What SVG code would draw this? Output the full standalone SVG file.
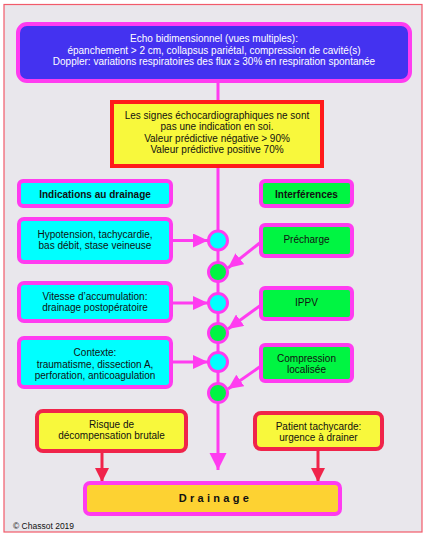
<svg xmlns="http://www.w3.org/2000/svg" width="426" height="535" viewBox="0 0 426 535">
<style>
text{font-family:"Liberation Sans",Arial,sans-serif;font-size:10px;text-anchor:middle;fill:#111}
.w{fill:#fff}
.b{font-weight:bold}
.mg{stroke:#ff3cf0;stroke-width:4}
.cy{fill:#00ffff}
.gr{fill:#00f542}
.ye{fill:#f8f83c}
.ln{stroke:#ff3cf0;stroke-width:3;fill:none}
.rl{stroke:#f0244a;stroke-width:3;fill:none}
.circ{stroke:#ff3cf0;stroke-width:3}
</style>
<defs>
<marker id="am" markerUnits="userSpaceOnUse" markerWidth="16" markerHeight="14" refX="15" refY="7" orient="auto"><path d="M0,0 L15,7 L0,14 Z" fill="#ff3cf0"/></marker>
<marker id="ar" markerUnits="userSpaceOnUse" markerWidth="14" markerHeight="14" refX="14" refY="7" orient="auto"><path d="M0,0 L14,7 L0,14 Z" fill="#f0244a"/></marker>
<marker id="amb" markerUnits="userSpaceOnUse" markerWidth="18" markerHeight="18" refX="17" refY="8.5" orient="auto"><path d="M0,0 L17,8.5 L0,17 Z" fill="#ff3cf0"/></marker>
</defs>
<rect x="4" y="4.5" width="418" height="527.5" fill="#e9e7ec" stroke="#f25a6a" stroke-width="1.2"/>
<g id="connectors">
<line class="ln" x1="218" y1="82" x2="218" y2="470" marker-end="url(#amb)"/>
<line class="ln" x1="172" y1="240.5" x2="208" y2="240.5" marker-end="url(#am)"/>
<line class="ln" x1="172" y1="303" x2="208" y2="303" marker-end="url(#am)"/>
<line class="ln" x1="172" y1="362" x2="208" y2="362" marker-end="url(#am)"/>
<line class="ln" x1="261" y1="242" x2="228" y2="268" marker-end="url(#am)"/>
<line class="ln" x1="261" y1="305" x2="228" y2="329" marker-end="url(#am)"/>
<line class="ln" x1="261" y1="366" x2="228" y2="389" marker-end="url(#am)"/>
<line class="rl" x1="102" y1="452" x2="102" y2="482" marker-end="url(#ar)"/>
<line class="rl" x1="318" y1="450" x2="318" y2="482" marker-end="url(#ar)"/>
</g>
<g id="echo">
<rect x="18" y="24" width="392" height="57" rx="9" fill="#4432f0" class="mg"/>
<text class="w" x="214" y="42">Echo bidimensionnel (vues multiples):</text>
<text class="w" x="214" y="54">épanchement &gt; 2 cm, collapsus pariétal, compression de cavité(s)</text>
<text class="w" x="214" y="65">Doppler: variations respiratoires des flux ≥ 30% en respiration spontanée</text>
</g>
<g id="signes">
<rect x="112" y="102" width="210" height="64" class="ye" stroke="#ff1a1a" stroke-width="4"/>
<text x="217" y="119">Les signes échocardiographiques ne sont</text>
<text x="217" y="130">pas une indication en soi.</text>
<text x="217" y="141.5">Valeur prédictive négative &gt; 90%</text>
<text x="217" y="153">Valeur prédictive positive 70%</text>
</g>
<g id="indications">
<rect x="19" y="181" width="152" height="25" rx="4" class="cy mg"/>
<text class="b" x="95" y="198">Indications au drainage</text>
</g>
<g id="interferences">
<rect x="261" y="181" width="91" height="25" rx="4" class="gr mg"/>
<text class="b" x="306.5" y="198">Interférences</text>
</g>
<g id="hypotension">
<rect x="19" y="219" width="152" height="43" rx="5" class="cy mg"/>
<text x="95" y="238">Hypotension, tachycardie,</text>
<text x="95" y="249">bas débit, stase veineuse</text>
</g>
<g id="precharge">
<rect x="261" y="225" width="91" height="31" rx="4" class="gr mg"/>
<text x="306.5" y="243">Précharge</text>
</g>
<g id="vitesse">
<rect x="19" y="283" width="152" height="38" rx="5" class="cy mg"/>
<text x="95" y="300">Vitesse d’accumulation:</text>
<text x="95" y="311">drainage postopératoire</text>
</g>
<g id="ippv">
<rect x="261" y="288" width="91" height="31" rx="4" class="gr mg"/>
<text x="306.5" y="306">IPPV</text>
</g>
<g id="contexte">
<rect x="19" y="338" width="152" height="49" rx="5" class="cy mg"/>
<text x="95" y="356">Contexte:</text>
<text x="95" y="367.5">traumatisme, dissection A,</text>
<text x="95" y="379">perforation, anticoagulation</text>
</g>
<g id="compression">
<rect x="261" y="345" width="91" height="36" rx="4" class="gr mg"/>
<text x="306.5" y="362">Compression</text>
<text x="306.5" y="373">localisée</text>
</g>
<g id="c1"><circle cx="218" cy="240.5" r="9.5" class="cy circ"/></g>
<g id="c2"><circle cx="218" cy="272" r="9.5" class="gr circ"/></g>
<g id="c3"><circle cx="218" cy="303" r="9.5" class="cy circ"/></g>
<g id="c4"><circle cx="218" cy="333" r="9.5" class="gr circ"/></g>
<g id="c5"><circle cx="218" cy="362" r="9.5" class="cy circ"/></g>
<g id="c6"><circle cx="218" cy="393" r="9.5" class="gr circ"/></g>
<g id="risque">
<rect x="37" y="411" width="149" height="40" rx="6" class="ye" stroke="#f0244a" stroke-width="4"/>
<text x="111.5" y="428">Risque de</text>
<text x="111.5" y="439">décompensation brutale</text>
</g>
<g id="patient">
<rect x="255" y="413" width="127" height="36" rx="6" class="ye" stroke="#f0244a" stroke-width="4"/>
<text x="318.5" y="430">Patient tachycarde:</text>
<text x="318.5" y="441">urgence à drainer</text>
</g>
<g id="drainage">
<rect x="85" y="483" width="255" height="31" rx="5" fill="#fdd232" class="mg"/>
<text class="b" x="215.5" y="502" style="font-size:11px;letter-spacing:3.3px">Drainage</text>
</g>
<text x="13" y="529" style="font-size:8.5px;text-anchor:start">© Chassot 2019</text>
</svg>
